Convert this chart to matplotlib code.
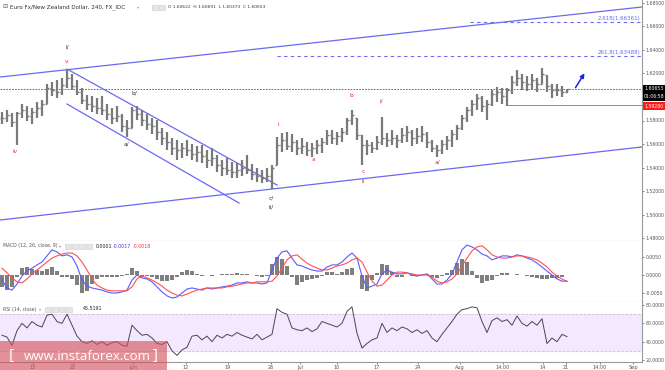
import numpy as np
import matplotlib
matplotlib.use("Agg")
import matplotlib.pyplot as plt
from matplotlib.patches import Rectangle, FancyArrowPatch

# ---- data (4h EUR/NZD, one bar per ~4 real bars) ----
bar_high = [1.5872, 1.5889, 1.5864, 1.5872, 1.5940, 1.5923, 1.5906, 1.5957, 1.5974, 1.6111,
            1.6128, 1.6145, 1.6162, 1.6230, 1.6196, 1.6145, 1.6077, 1.6017, 1.6009, 1.5991,
            1.6009, 1.5940, 1.5906, 1.5923, 1.5855, 1.5804, 1.5915, 1.5923, 1.5889, 1.5855,
            1.5821, 1.5804, 1.5736, 1.5702, 1.5651, 1.5634, 1.5609, 1.5634, 1.5600, 1.5583,
            1.5592, 1.5549, 1.5566, 1.5507, 1.5464, 1.5481, 1.5447, 1.5439, 1.5464, 1.5507,
            1.5430, 1.5396, 1.5379, 1.5396, 1.5422, 1.5660, 1.5694, 1.5702, 1.5685, 1.5634,
            1.5651, 1.5617, 1.5609, 1.5634, 1.5651, 1.5719, 1.5719, 1.5702, 1.5736, 1.5821,
            1.5889, 1.5821, 1.5677, 1.5634, 1.5617, 1.5668, 1.5830, 1.5694, 1.5719, 1.5677,
            1.5736, 1.5753, 1.5719, 1.5736, 1.5753, 1.5702, 1.5634, 1.5592, 1.5634, 1.5668,
            1.5719, 1.5762, 1.5847, 1.5915, 1.5974, 1.6026, 1.6009, 1.5974, 1.6060, 1.6085,
            1.6077, 1.6077, 1.6179, 1.6230, 1.6196, 1.6179, 1.6196, 1.6162, 1.6247, 1.6187,
            1.6111, 1.6111, 1.6094, 1.6069]
bar_low = [1.5770, 1.5787, 1.5745, 1.5592, 1.5821, 1.5796, 1.5770, 1.5821, 1.5838, 1.5940,
           1.6009, 1.5991, 1.6017, 1.6077, 1.6060, 1.6017, 1.5940, 1.5889, 1.5872, 1.5855,
           1.5847, 1.5804, 1.5770, 1.5787, 1.5702, 1.5660, 1.5736, 1.5804, 1.5753, 1.5719,
           1.5685, 1.5634, 1.5592, 1.5549, 1.5507, 1.5464, 1.5481, 1.5498, 1.5464, 1.5447,
           1.5439, 1.5396, 1.5413, 1.5362, 1.5328, 1.5337, 1.5311, 1.5311, 1.5328, 1.5345,
           1.5294, 1.5277, 1.5269, 1.5277, 1.5218, 1.5422, 1.5532, 1.5549, 1.5532, 1.5507,
           1.5515, 1.5498, 1.5490, 1.5515, 1.5524, 1.5592, 1.5600, 1.5592, 1.5617, 1.5677,
           1.5762, 1.5634, 1.5422, 1.5507, 1.5524, 1.5549, 1.5592, 1.5575, 1.5592, 1.5566,
           1.5609, 1.5617, 1.5583, 1.5600, 1.5617, 1.5566, 1.5532, 1.5490, 1.5515, 1.5549,
           1.5575, 1.5634, 1.5719, 1.5787, 1.5838, 1.5889, 1.5872, 1.5804, 1.5923, 1.5957,
           1.5940, 1.5923, 1.6026, 1.6094, 1.6060, 1.6051, 1.6060, 1.6043, 1.6111, 1.6043,
           1.5991, 1.6009, 1.6000, 1.6037]
bar_close = [1.5821, 1.5847, 1.5787, 1.5864, 1.5889, 1.5838, 1.5872, 1.5906, 1.5940, 1.6077,
             1.6060, 1.6043, 1.6102, 1.6162, 1.6094, 1.6043, 1.5974, 1.5940, 1.5923, 1.5906,
             1.5889, 1.5855, 1.5821, 1.5838, 1.5753, 1.5736, 1.5889, 1.5855, 1.5804, 1.5770,
             1.5753, 1.5702, 1.5651, 1.5617, 1.5566, 1.5549, 1.5566, 1.5549, 1.5515, 1.5532,
             1.5498, 1.5464, 1.5481, 1.5422, 1.5396, 1.5379, 1.5362, 1.5379, 1.5396, 1.5379,
             1.5345, 1.5328, 1.5311, 1.5328, 1.5396, 1.5592, 1.5634, 1.5583, 1.5617, 1.5566,
             1.5583, 1.5549, 1.5566, 1.5592, 1.5617, 1.5677, 1.5651, 1.5668, 1.5702, 1.5804,
             1.5847, 1.5677, 1.5592, 1.5592, 1.5566, 1.5617, 1.5651, 1.5634, 1.5651, 1.5634,
             1.5677, 1.5702, 1.5651, 1.5668, 1.5685, 1.5617, 1.5566, 1.5549, 1.5600, 1.5634,
             1.5685, 1.5736, 1.5821, 1.5889, 1.5940, 1.5991, 1.5923, 1.5940, 1.6026, 1.6043,
             1.6009, 1.6060, 1.6128, 1.6162, 1.6128, 1.6111, 1.6145, 1.6111, 1.6196, 1.6094,
             1.6060, 1.6060, 1.6043, 1.60653]

rsi_values = [47, 45, 36, 52, 60, 55, 62, 58, 56, 69,
              70, 62, 60, 70, 58, 46, 40, 38, 41, 37,
              40, 36, 39, 40, 36, 35, 58, 52, 47, 48,
              44, 38, 37, 40, 30, 25, 31, 34, 46, 47,
              42, 46, 40, 47, 44, 48, 46, 50, 47, 45,
              43, 48, 42, 45, 48, 76, 72, 70, 55, 53,
              52, 55, 51, 54, 62, 60, 58, 56, 60, 73,
              78, 49, 33, 38, 42, 44, 60, 50, 55, 52,
              56, 54, 50, 53, 49, 52, 44, 40, 48, 55,
              62, 70, 75, 76, 78, 77, 62, 50, 63, 66,
              62, 64, 58, 68, 60, 57, 62, 58, 65, 38,
              44, 40, 48, 45.52]

macd_line = [-0.0014, -0.0036, -0.0042, -0.0025, -0.0003, 0.0011, 0.0019, 0.0028, 0.0036, 0.0053,
             0.0070, 0.0064, 0.0053, 0.0056, 0.0050, 0.0025, -0.0014, -0.0031, -0.0036, -0.0039,
             -0.0042, -0.0047, -0.0050, -0.0050, -0.0047, -0.0042, -0.0014, 0.0000, -0.0008, -0.0011,
             -0.0019, -0.0033, -0.0047, -0.0058, -0.0064, -0.0061, -0.0050, -0.0039, -0.0036, -0.0039,
             -0.0042, -0.0036, -0.0039, -0.0036, -0.0033, -0.0031, -0.0028, -0.0022, -0.0022, -0.0019,
             -0.0022, -0.0022, -0.0025, -0.0022, 0.0014, 0.0047, 0.0064, 0.0067, 0.0047, 0.0028,
             0.0025, 0.0019, 0.0014, 0.0011, 0.0011, 0.0022, 0.0028, 0.0028, 0.0036, 0.0050,
             0.0061, 0.0047, -0.0003, -0.0036, -0.0031, -0.0025, 0.0003, 0.0014, 0.0008, 0.0003,
             0.0003, 0.0006, 0.0000, -0.0003, 0.0000, 0.0003, -0.0011, -0.0025, -0.0025, -0.0014,
             0.0003, 0.0036, 0.0070, 0.0083, 0.0078, 0.0070, 0.0058, 0.0053, 0.0042, 0.0047,
             0.0053, 0.0053, 0.0050, 0.0056, 0.0053, 0.0047, 0.0042, 0.0033, 0.0022, 0.0011,
             0.0000, -0.0011, -0.0017, -0.0017]
macd_signal = [0.0019, 0.0006, -0.0008, -0.0019, -0.0022, -0.0011, 0.0003, 0.0014, 0.0025, 0.0036,
               0.0047, 0.0053, 0.0058, 0.0061, 0.0061, 0.0053, 0.0036, 0.0014, -0.0011, -0.0028,
               -0.0036, -0.0042, -0.0044, -0.0044, -0.0044, -0.0044, -0.0033, -0.0011, -0.0003, -0.0008,
               -0.0014, -0.0022, -0.0031, -0.0042, -0.0050, -0.0056, -0.0058, -0.0053, -0.0047, -0.0042,
               -0.0039, -0.0036, -0.0036, -0.0036, -0.0036, -0.0033, -0.0031, -0.0028, -0.0025, -0.0022,
               -0.0022, -0.0019, -0.0019, -0.0019, -0.0017, -0.0003, 0.0019, 0.0042, 0.0053, 0.0056,
               0.0044, 0.0033, 0.0025, 0.0019, 0.0014, 0.0014, 0.0019, 0.0025, 0.0028, 0.0033,
               0.0042, 0.0047, 0.0036, 0.0008, -0.0017, -0.0031, -0.0028, -0.0014, 0.0000, 0.0008,
               0.0008, 0.0006, 0.0003, 0.0000, 0.0000, 0.0000, -0.0006, -0.0017, -0.0022, -0.0019,
               -0.0011, 0.0003, 0.0025, 0.0047, 0.0067, 0.0078, 0.0081, 0.0070, 0.0056, 0.0050,
               0.0047, 0.0047, 0.0050, 0.0053, 0.0053, 0.0050, 0.0047, 0.0042, 0.0033, 0.0022,
               0.0008, -0.0003, -0.0011, -0.0018]

# trend lines: (bar index, price) pairs
upper_channel = ([-0.4, 128.0], [1.6170, 1.6766])
lower_channel = ([-0.4, 128.0], [1.4953, 1.5575])
down_channel_top = ([13.0, 55.0], [1.6238, 1.5251])
down_channel_bot = ([13.0, 47.4], [1.5940, 1.5098])
fib_levels = [(1.66361, 93.6, "2.618(1.66361)"), (1.63488, 55.0, "261.8(1.63488)")]
last_close = 1.60653
support_level = 1.59280
support_start = 101.0
arrow_from = (114.4, 1.6060)
arrow_to = (116.8, 1.6221)

wave_labels = [
    (2.6, 1.5532, "iv", "#e03030"), (13.0, 1.6306, "v", "#e03030"),
    (13.0, 1.6426, "i/", "#333333"), (26.4, 1.6034, "b/", "#333333"),
    (24.8, 1.5600, "a/", "#333333"), (53.8, 1.5141, "c/", "#333333"),
    (53.8, 1.5064, "ii/", "#333333"), (55.2, 1.5770, "i", "#e03030"),
    (62.2, 1.5464, "a", "#e03030"), (69.8, 1.6009, "b", "#e03030"),
    (72.2, 1.5362, "c", "#e03030"), (72.2, 1.5285, "ii", "#e03030"),
    (75.8, 1.5966, "i/", "#e03030"), (87.0, 1.5447, "a/", "#e03030"),
]

x_tick_pos = [6.2, 14.2, 26.2, 36.8, 45.2, 53.8, 59.6, 67.0, 75.0, 83.2,
              91.6, 100.2, 108.2, 112.8, 119.6, 126.2]
x_tick_lab = ["15", "22", "Jun", "12", "19", "26", "Jul", "10", "17", "24",
              "Aug", "14:00", "14", "21", "14:00", "Sep"]

# ---- layout ----
W, H = 665, 370
def fx(px):
    return px / W
def fy(py):
    return 1 - py / H

fig = plt.figure(figsize=(W / 100, H / 100), dpi=100)
plot_w = 642 / W
ax = fig.add_axes([0, fy(241), plot_w, 241 / H])
ax_m = fig.add_axes([0, fy(302), plot_w, 61 / H])
ax_r = fig.add_axes([0, fy(362), plot_w, 60 / H])

grey_txt = "#555555"
for a in (ax, ax_m, ax_r):
    a.set_xlim(-0.4, 128.0)
    a.yaxis.tick_right()
    a.tick_params(axis="y", labelsize=3.3, colors=grey_txt, length=1.5, width=0.5, pad=1)
    a.spines["left"].set_visible(False)
    a.spines["top"].set_visible(False)
    for s in ("right", "bottom"):
        a.spines[s].set_color("#999999")
        a.spines[s].set_linewidth(0.8)
    a.set_facecolor("white")
for a in (ax, ax_m):
    a.set_xticks([])
ax_r.set_xticks(x_tick_pos)
ax_r.set_xticklabels(x_tick_lab)
ax_r.tick_params(axis="x", labelsize=3.6, colors=grey_txt, length=1.5, width=0.5, pad=0.8)

# ---- price panel ----
idx = np.arange(len(bar_close))
hi = np.array(bar_high)
lo = np.array(bar_low)
cl = np.array(bar_close)
op = np.clip(np.r_[cl[0], cl[:-1]], lo, hi)
bar_col = "#7a7a7a"
ax.vlines(idx, lo, hi, color=bar_col, lw=1.6, zorder=3)
ax.hlines(op, idx - 0.45, idx, color=bar_col, lw=1.0, zorder=3)
ax.hlines(cl, idx, idx + 0.45, color=bar_col, lw=1.0, zorder=3)

ax.set_ylim(1.47745, 1.68255)
price_ticks = np.arange(1.48, 1.6801, 0.02)
ax.set_yticks(price_ticks)
# the 1.60000 label sits under the live price boxes in the reference
ax.set_yticklabels(["" if abs(t - 1.60) < 1e-6 else f"{t:.5f}" for t in price_ticks])

line_blue = "#6a6af0"
for xs, ys in (upper_channel, lower_channel, down_channel_top, down_channel_bot):
    ax.plot(xs, ys, color=line_blue, lw=0.9, zorder=2)
for lvl, start, lab in fib_levels:
    ax.plot([start, 128.0], [lvl, lvl], color=line_blue, lw=0.8, ls=(0, (3, 3)), zorder=2)
    ax.text(127.6, lvl + 0.0012, lab, color=line_blue, fontsize=4, ha="right", va="bottom")
ax.axhline(last_close, color="#555555", lw=0.6, ls=(0, (2, 1.5)), zorder=1)
ax.plot([support_start, 128.0], [support_level, support_level], color="#ff6060", lw=0.7, zorder=1)
ax.add_patch(FancyArrowPatch(arrow_from, arrow_to, arrowstyle="-|>", mutation_scale=6,
                             color="#2020e0", lw=1.1, zorder=5))
for bx, by, t, c in wave_labels:
    ax.text(bx, by, t, color=c, fontsize=4.2, ha="center", va="center", zorder=6)

# ---- MACD panel ----
m = np.array(macd_line)
sgl = np.array(macd_signal)
ax_m.bar(idx, m - sgl, width=0.7, color="#7f7f7f", zorder=2)
ax_m.plot(idx, m, color="#5a5aff", lw=0.8, zorder=3)
ax_m.plot(idx, sgl, color="#ff5050", lw=0.8, zorder=3)
ax_m.set_ylim(-0.0075, 0.00944)
ax_m.set_yticks([-0.005, 0.0, 0.005])
ax_m.yaxis.set_major_formatter(matplotlib.ticker.FormatStrFormatter("%.4f"))

# ---- RSI panel ----
ax_r.axhspan(30, 70, color="#f3e8fd", zorder=0)
for lv in (30, 70):
    ax_r.axhline(lv, color="#c8c8c8", lw=0.6, ls=(0, (3, 2)), zorder=1)
ax_r.plot(idx, rsi_values, color="#4a4458", lw=0.7, zorder=3)
ax_r.set_ylim(17.8, 83.3)
ax_r.set_yticks([20, 40, 60, 80])
ax_r.yaxis.set_major_formatter(matplotlib.ticker.FormatStrFormatter("%.4f"))

# ---- header texts ----
hdr = "#333333"
fig.text(fx(2), fy(7), "\u229f", fontsize=4.5, color="#666666", va="center")
fig.text(fx(10), fy(7), "Euro Fx/New Zealand Dollar, 240, FX_IDC", fontsize=4.1,
         color=hdr, va="center")
fig.text(fx(137), fy(7), "\u25be", fontsize=3, color="#999999", va="center")
fig.text(fx(168), fy(7), "O 1.60622  H 1.60691  L 1.60373  C 1.60653", fontsize=3.2,
         color=hdr, va="center")

fig.text(fx(3), fy(246), "MACD (12, 26, close, 9)", fontsize=3.3, color=grey_txt, va="center")
fig.text(fx(59), fy(246), "\u25be", fontsize=3, color="#999999", va="center")
fig.text(fx(96), fy(246), "0.0001", fontsize=3.4, color="#222222", va="center")
fig.text(fx(113), fy(246), "-0.0017", fontsize=3.4, color="#3a3aff", va="center")
fig.text(fx(133), fy(246), "-0.0018", fontsize=3.4, color="#ff3030", va="center")

fig.text(fx(3), fy(309), "RSI (14, close)", fontsize=3.3, color=grey_txt, va="center")
fig.text(fx(39), fy(309), "\u25be", fontsize=3, color="#999999", va="center")
fig.text(fx(83), fy(309), "45.5191", fontsize=3.4, color="#222222", va="center")

for x0, yc, n in ((152, 7, 2), (65, 246, 4), (45, 309, 4)):
    for k in range(n):
        fig.patches.append(Rectangle((fx(x0 + 7 * k), fy(yc + 3)), 5.5 / W, 5.5 / H,
                                     transform=fig.transFigure, facecolor="#e6e6e6",
                                     edgecolor="#cfcfcf", lw=0.4))

# ---- right-hand price boxes ----
for py, txt, bg in ((89, "1.60653", "black"), (97, "01:06:58", "black"), (106, "1.59280", "#ff1a1a")):
    fig.patches.append(Rectangle((fx(643), fy(py + 4)), 22 / W, 8 / H,
                                 transform=fig.transFigure, facecolor=bg, edgecolor="none",
                                 zorder=10))
    fig.text(fx(654), fy(py), txt, fontsize=3.3, color="white", ha="center", va="center",
             zorder=11)

# ---- watermark ----
fig.patches.append(Rectangle((0, 0), fx(167), 29 / H, transform=fig.transFigure,
                             facecolor="#d4505a", alpha=0.62, edgecolor="none", zorder=12))
fig.text(fx(9), fy(355), "[", fontsize=11, color="white", va="center", zorder=13,
         family="Open Sans")
fig.text(fx(87), fy(356), "www.instaforex.com", fontsize=9.5, color="white", ha="center",
         va="center", zorder=13, family="Open Sans")
fig.text(fx(153), fy(355), "]", fontsize=11, color="white", va="center", zorder=13,
         family="Open Sans")

fig.savefig("out.png", dpi=100)
